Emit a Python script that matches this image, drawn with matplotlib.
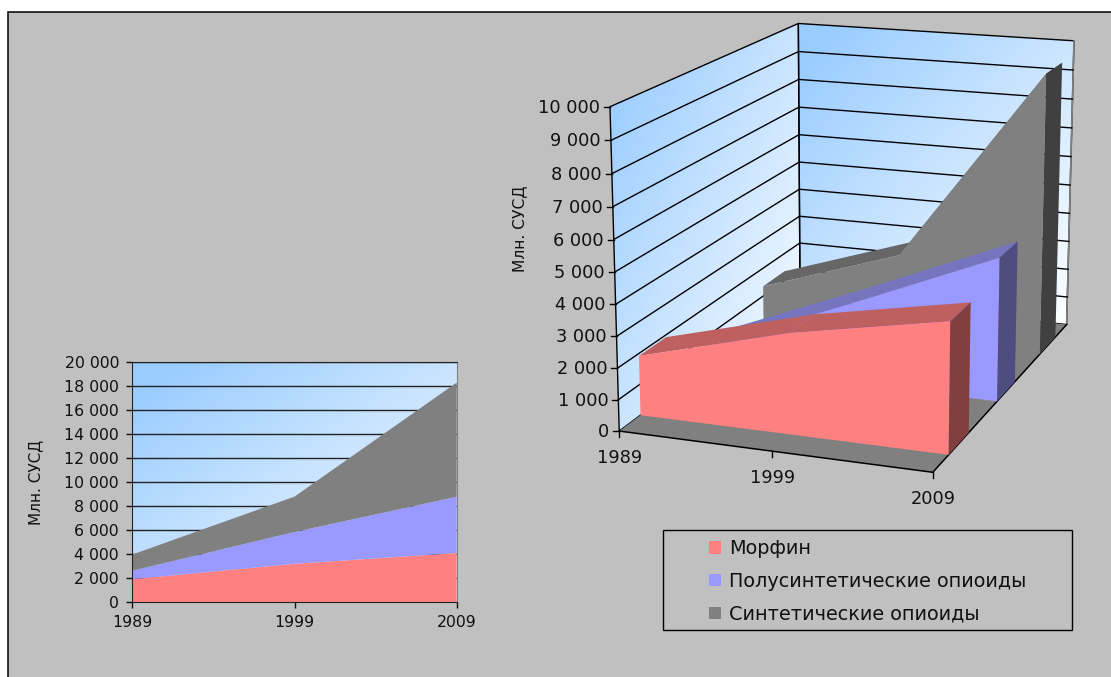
import numpy as np
import matplotlib
matplotlib.use('Agg')
import matplotlib.pyplot as plt
from matplotlib.patches import Polygon, Patch, Rectangle
from matplotlib.colors import LinearSegmentedColormap

years = ['1989', '1999', '2009']
series_names = ['Морфин', 'Полусинтетические опиоиды', 'Синтетические опиоиды']
morphine = [1920, 3200, 4100]
semi_synthetic = [700, 2650, 4680]
synthetic = [1350, 2950, 9520]

ticks_2d = [0, 2000, 4000, 6000, 8000, 10000, 12000, 14000, 16000, 18000, 20000]
ticks_3d = [0, 1000, 2000, 3000, 4000, 5000, 6000, 7000, 8000, 9000, 10000]
ylabel = 'Млн. СУСД'

front_colors = ['#FF8080', '#9999FF', '#808080']
top_colors = ['#BF6060', '#7575BF', '#666666']
side_colors = ['#804040', '#4D4D80', '#404040']
BG = '#C0C0C0'
TXT = '#111111'
W, H = 1111, 677

wall_cmap = LinearSegmentedColormap.from_list('wall', ['#99CCFF', '#FFFFFF'])


def fmt(v):
    return f'{v:,}'.replace(',', ' ')


def gradient():
    xx, yy = np.meshgrid(np.linspace(0, 1, 200), np.linspace(0, 1, 200))
    return np.clip(((xx + yy) / 2 - 0.06) / 0.94, 0, 1)


fig = plt.figure(figsize=(W / 100, H / 100), dpi=100, facecolor='white')

# page: gray panel with black frame
page = fig.add_axes([0, 0, 1, 1], zorder=0)
page.set_xlim(0, W)
page.set_ylim(H, 0)
page.axis('off')
page.add_patch(Rectangle((8, 12), W + 10, H + 10, facecolor=BG, edgecolor='black', lw=1.1))

# camera for the 3d chart, fitted to the corners of its box (u, v, w -> pixels)
box_uvw = np.array([[0, 0, 0], [1, 0, 0], [0, 0, 1], [1, 0, 1], [0, 1, 0], [0, 1, 1], [1, 1, 1]], float)
box_px = np.array([[619.3, 430.7], [932.7, 472.7], [800, 296.7], [1066.7, 324],
                   [610, 106.7], [798.3, 23.3], [1074, 41]])
rows = []
for (u, v, w), (px, py) in zip(box_uvw, box_px):
    rows.append([u, v, w, 1, 0, 0, 0, 0, -px * u, -px * v, -px * w, -px])
    rows.append([0, 0, 0, 0, u, v, w, 1, -py * u, -py * v, -py * w, -py])
cam = np.linalg.svd(np.array(rows))[2][-1].reshape(3, 4)


def project(u, v, w):
    p = cam @ np.array([u, v, w, 1.0])
    return p[0] / p[2], p[1] / p[2]


def wall(ax, corners):
    poly = Polygon(corners, closed=True, facecolor='none', edgecolor='black', lw=1.0, zorder=2)
    ax.add_patch(poly)
    xs, ys = zip(*corners)
    im = ax.imshow(gradient(), cmap=wall_cmap, vmin=0, vmax=1, aspect='auto', zorder=1,
                   extent=[min(xs), max(xs), max(ys), min(ys)])
    im.set_clip_path(poly)


ax3 = fig.add_axes([0, 0, 1, 1], zorder=1)
ax3.patch.set_alpha(0)

wall(ax3, [project(0, 0, 0), project(0, 1, 0), project(0, 1, 1), project(0, 0, 1)])
wall(ax3, [project(0, 0, 1), project(0, 1, 1), project(1, 1, 1), project(1, 0, 1)])
ax3.plot(*zip(project(1, 1, 1), project(1, 0, 1)), color='#808080', lw=1.2, zorder=2.5)

vmax_3d = ticks_3d[-1]
for t in ticks_3d[1:-1]:
    v = t / vmax_3d
    pts = [project(0, v, 0), project(0, v, 1), project(1, v, 1)]
    ax3.plot(*zip(*pts), color='black', lw=1.0, zorder=3)

floor = [project(0, 0, 0), project(1, 0, 0), project(1, 0, 1), project(0, 0, 1)]
ax3.add_patch(Polygon(floor, closed=True, facecolor='#808080', edgecolor='none', zorder=4))
ax3.plot(*zip(project(0, 0, 0), project(1, 0, 0), project(1, 0, 1)), color='black', lw=1.1, zorder=4)

# ribbons, back to front
depths = [(0.10, 0.233), (0.433, 0.567), (0.767, 0.90)]
totals = np.array([morphine, semi_synthetic, synthetic], float)
us = np.linspace(0, 1, len(years))
for k in [2, 1, 0]:
    vals = totals[k] / vmax_3d
    w0, w1 = depths[k]
    z = 10 + (2 - k) * 3
    for i in range(len(us) - 1):
        top = [project(us[i], vals[i], w0), project(us[i + 1], vals[i + 1], w0),
               project(us[i + 1], vals[i + 1], w1), project(us[i], vals[i], w1)]
        ax3.add_patch(Polygon(top, closed=True, facecolor=top_colors[k], edgecolor='none', zorder=z))
    front = [project(u, 0, w0) for u in us] + [project(u, v, w0) for u, v in zip(us[::-1], vals[::-1])]
    ax3.add_patch(Polygon(front, closed=True, facecolor=front_colors[k], edgecolor='none', zorder=z + 1))
    side = [project(1, 0, w0), project(1, vals[-1], w0), project(1, vals[-1], w1), project(1, 0, w1)]
    ax3.add_patch(Polygon(side, closed=True, facecolor=side_colors[k], edgecolor='none', zorder=z + 2))

# axes labels of the 3d chart
for t in ticks_3d:
    px, py = project(0, t / vmax_3d, 0)
    ax3.plot([px - 6, px], [py, py], color='black', lw=1.0, zorder=5)
    ax3.text(px - 10, py + 1, fmt(t), ha='right', va='center', fontsize=12.8, color=TXT)
for u, lab in zip(us, years):
    px, py = project(u, 0, 0)
    ax3.plot([px, px], [py, py + 6], color='black', lw=1.0, zorder=5)
    ax3.text(px, py + 27, lab, ha='center', va='center', fontsize=12.8, color=TXT)
ax3.text(520, 229, ylabel, rotation=90, ha='center', va='center', fontsize=11.2, color=TXT)

ax3.set_xlim(0, W)
ax3.set_ylim(H, 0)
ax3.axis('off')

# 2d stacked chart
ax2 = fig.add_axes([132.3 / W, 1 - 602.2 / H, 324.4 / W, 240 / H], zorder=2)
x = np.arange(len(years))
ax2.imshow(gradient(), cmap=wall_cmap, vmin=0, vmax=1, aspect='auto', zorder=0,
           extent=[x[0], x[-1], ticks_2d[0], ticks_2d[-1]])
ax2.stackplot(x, morphine, semi_synthetic, synthetic, colors=front_colors, lw=0, zorder=2)
ax2.set_xlim(x[0], x[-1])
ax2.set_ylim(ticks_2d[0], ticks_2d[-1])
ax2.set_xticks(x, years)
ax2.set_yticks(ticks_2d, [fmt(t) for t in ticks_2d])
ax2.yaxis.grid(True, color='#222222', lw=1.0, zorder=1)
ax2.set_axisbelow(True)
ax2.tick_params(axis='both', labelsize=11.3, length=4, width=1, colors=TXT, pad=5.5)
ax2.set_ylabel(ylabel, fontsize=11, color=TXT)
ax2.yaxis.set_label_coords((43 - 132.3) / 324.4, 0.5)
for side_name in ['top', 'left', 'bottom']:
    ax2.spines[side_name].set_color('#222222')
ax2.spines['right'].set_color('#808080')

# legend
page.add_patch(Rectangle((663, 530), 409, 100, facecolor=BG, edgecolor='black', lw=1.0))
handles = [Patch(facecolor=c, edgecolor='none', label=n) for c, n in zip(front_colors, series_names)]
fig.legend(handles=handles, loc='center left', bbox_to_anchor=(691.5 / W, 1 - 581.5 / H), frameon=False,
           fontsize=13.9, handlelength=0.62, handleheight=0.62, handletextpad=0.41, labelspacing=0.72,
           labelcolor=TXT)

fig.savefig('out.png', dpi=100, facecolor=fig.get_facecolor())
